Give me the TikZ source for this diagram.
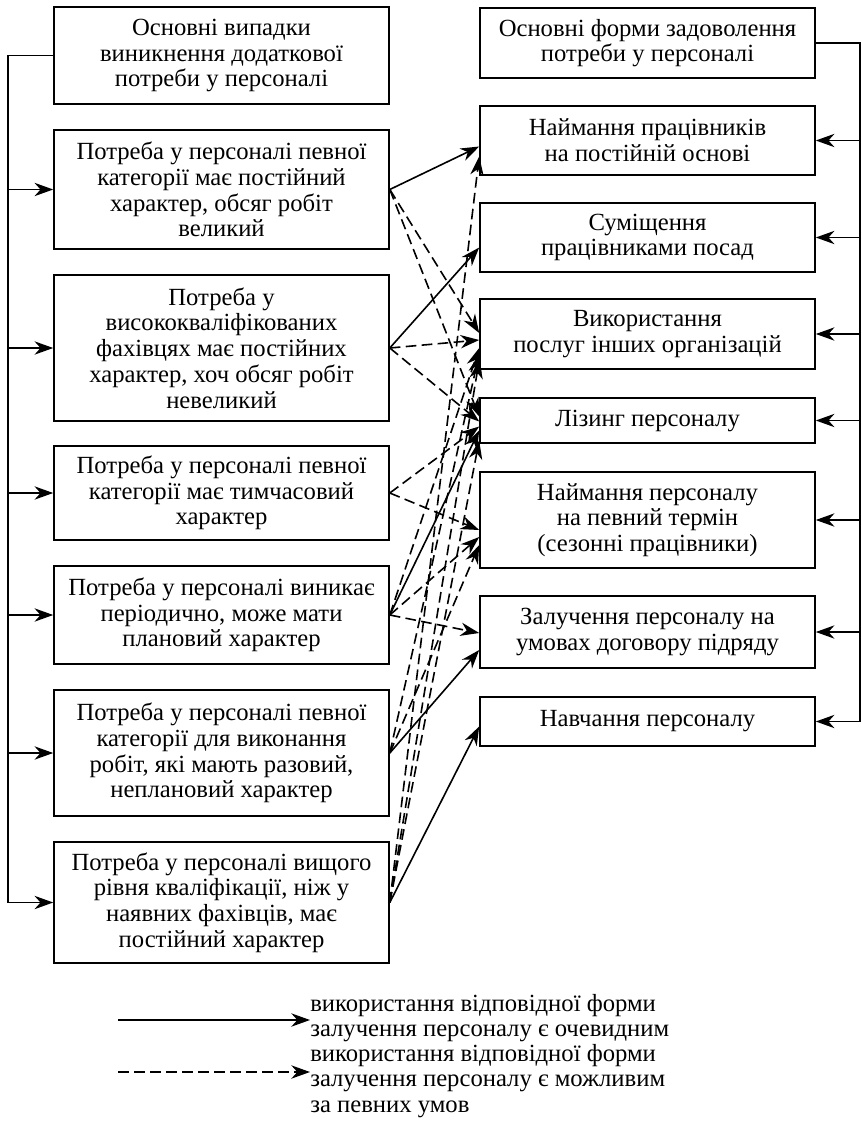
\documentclass[tikz,border=0pt]{standalone}
\usepackage{fontspec}
\setmainfont{Liberation Serif}
\usetikzlibrary{arrows.meta,calc}
\begin{document}
\begin{tikzpicture}[x=0.75pt,y=-0.75pt,
  txt/.style={font=\fontsize{18.5}{19.3}\selectfont},
  box/.style={txt,draw,line width=1.2pt,align=center,inner sep=0pt,minimum width=251.25pt},
  tip/.style={-{Stealth[length=14pt,width=10pt,inset=4.5pt]}},
  sol/.style={line width=1.2pt,tip},
  dsh/.style={sol,dash pattern=on 8pt off 4pt},
  link/.style={line width=1.2pt}]
\useasboundingbox (0,0) rectangle (862,1124);

% left column: cases of additional demand
\node[box,minimum height=72.75pt] (L0) at (221.5,55.5) {Основні випадки\\виникнення додаткової\\потреби у персоналі};
\node[box,minimum height=89.25pt] (L1) at (221.5,189.5) {Потреба у персоналі певної\\категорії має постійний\\характер, обсяг робіт\\великий};
\node[box,minimum height=109.5pt] (L2) at (221.5,348) {Потреба у\\висококваліфікованих\\фахівцях має постійних\\характер, хоч обсяг робіт\\невеликий};
\node[box,minimum height=70.5pt] (L3) at (221.5,493) {Потреба у персоналі певної\\категорії має тимчасовий\\характер};
\node[box,minimum height=73.5pt] (L4) at (221.5,615) {Потреба у персоналі виникає\\періодично, може мати\\плановий характер};
\node[box,minimum height=94.5pt] (L5) at (221.5,753) {Потреба у персоналі певної\\категорії для виконання\\робіт, які мають разовий,\\неплановий характер};
\node[box,minimum height=90.75pt] (L6) at (221.5,902.5) {Потреба у персоналі вищого\\рівня кваліфікації, ніж у\\наявних фахівців, має\\постійний характер};

% right column: forms of satisfying the demand
\node[box,minimum height=52.5pt] (R0) at (647.5,43) {Основні форми задоволення\\потреби у персоналі};
\node[box,minimum height=51.75pt] (R1) at (647.5,140.5) {Наймання працівників\\на постійній основі};
\node[box,minimum height=51.75pt] (R2) at (647.5,237.5) {Суміщення\\працівниками посад};
\node[box,minimum height=52.5pt] (R3) at (647.5,334) {Використання\\послуг інших організацій};
\node[box,minimum height=33.75pt] (R4) at (647.5,420.5) {Лізинг персоналу};
\node[box,minimum height=72pt] (R5) at (647.5,520) {Наймання персоналу\\на певний термін\\(сезонні працівники)};
\node[box,minimum height=54pt] (R6) at (647.5,632) {Залучення персоналу на\\умовах договору підряду};
\node[box,minimum height=36.75pt] (R7) at (647.5,721.5) {Навчання персоналу};

% left bracket
\coordinate (lb) at (8,0);
\draw[link] (L0.west) -- (L0.west -| lb) -- (L6.west -| lb);
\foreach \n in {L1,L2,L3,L4,L5,L6}
  \draw[sol] (\n.west -| lb) -- (\n.west);

% right bracket
\coordinate (rb) at (860,0);
\draw[link] (R0.east) -- (R0.east -| rb) -- (R7.east -| rb);
\foreach \n in {R1,R2,R3,R4,R5,R6,R7}
  \draw[sol] (\n.east -| rb) -- (\n.east);

% obvious forms
\draw[sol] (L1.east) -- ($(R1.west)+(0,6)$);
\draw[sol] (L2.east) -- ($(R2.west)+(0,10)$);
\draw[sol] (L4.east) -- ($(R4.west)+(0,10)$);
\draw[sol] (L5.east) -- ($(R6.west)+(0,18)$);
\draw[sol] (L6.east) -- ($(R7.west)+(0,5)$);

% possible forms
\draw[dsh] (L1.east) -- ($(R3.west)+(0,-1)$);
\draw[dsh] (L1.east) -- ($(R4.west)+(0,-4)$);
\draw[dsh] (L2.east) -- ($(R3.west)+(0,6)$);
\draw[dsh] (L2.east) -- ($(R4.west)+(0,1)$);
\draw[dsh] (L3.east) -- ($(R4.west)+(0,6)$);
\draw[dsh] (L3.east) -- ($(R5.west)+(0,10)$);
\draw[dsh] (L4.east) -- ($(R3.west)+(0,14)$);
\draw[dsh] (L4.east) -- ($(R5.west)+(0,17)$);
\draw[dsh] (L4.east) -- ($(R6.west)+(0,1)$);
\draw[dsh] (L5.east) -- ($(R3.west)+(0,20)$);
\draw[dsh] (L5.east) -- ($(R5.west)+(0,25)$);
\draw[dsh] (L6.east) -- ($(R1.west)+(0,16)$);
\draw[dsh] (L6.east) -- ($(R3.west)+(0,26)$);
\draw[dsh] (L6.east) -- ($(R4.west)+(0,20)$);

% legend
\coordinate (ka) at (118,1020);
\node[txt,anchor=west,align=left,inner sep=0pt] (ta) at (310,1018) {використання відповідної форми\\залучення персоналу є очевидним};
\draw[sol] (ka) -- (ka -| ta.west);
\coordinate (kb) at (118,1072);
\node[txt,anchor=west,align=left,inner sep=0pt] (tb) at (310,1081) {використання відповідної форми\\залучення персоналу є можливим\\за певних умов};
\draw[dsh] (kb) -- (kb -| tb.west);
\end{tikzpicture}
\end{document}
